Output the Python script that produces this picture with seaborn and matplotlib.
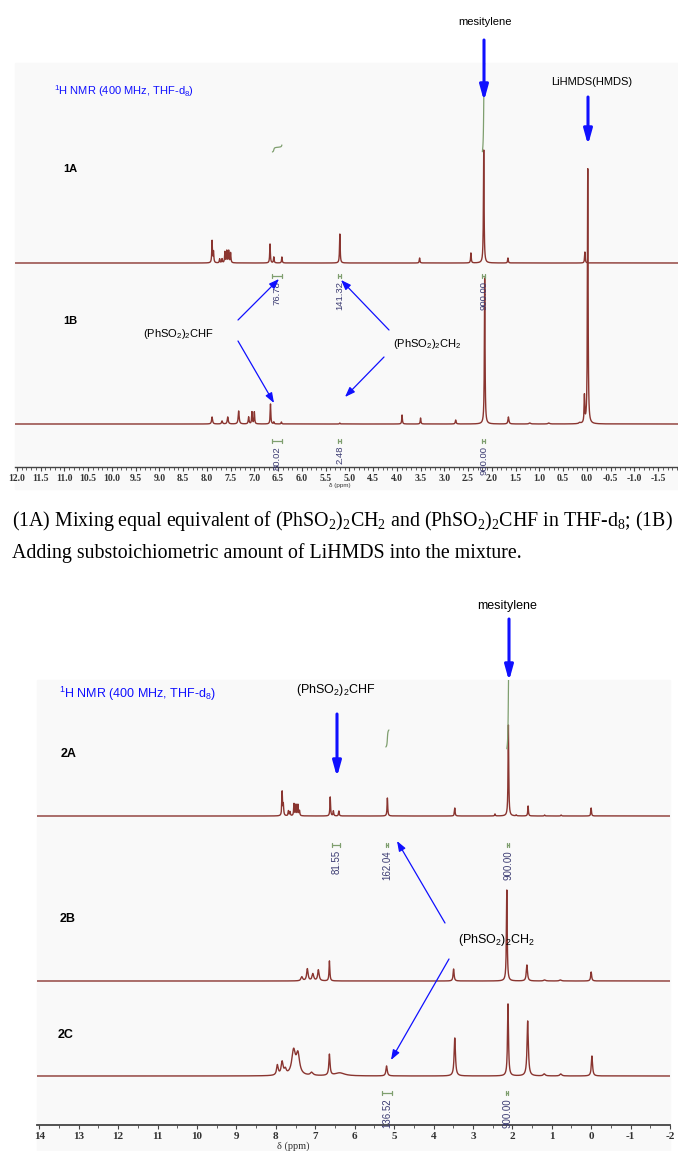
import numpy as np
import pandas as pd
import matplotlib
matplotlib.use("Agg")
import matplotlib.pyplot as plt
import seaborn as sns
from matplotlib.patches import Rectangle, FancyArrowPatch
from matplotlib.ticker import MultipleLocator, FixedLocator, FixedFormatter

sns.set_theme(style="white")
plt.rcParams["font.family"] = ["Liberation Sans", "DejaVu Sans"]

# ---------------- data (ppm, peak height, half width in ppm) ----------------
s1A_ppm = [7.89, 7.86, 7.73, 7.68, 7.62, 7.58, 7.54, 7.50, 6.67, 6.59, 6.42, 5.20, 3.52, 2.44, 2.17, 1.66, 0.04]
s1A_h   = [22, 11, 4, 4, 11, 12, 12, 10, 19, 6, 6, 29, 5, 10, 113, 5, 11]
s1A_w   = [0.008] * 17

s1B_ppm = [7.89, 7.68, 7.56, 7.33, 7.12, 7.05, 7.00, 6.66, 6.59, 6.43, 5.20, 3.89, 3.50, 2.76, 2.15, 1.65, 1.20, 0.80, 0.15, 0.05, -0.02]
s1B_h   = [7, 3, 7, 13, 7, 12, 12, 20, 2, 2, 1, 9, 6, 4, 146, 7, 1, 1, 1, 27, 255]
s1B_w   = [0.012, 0.012, 0.012, 0.012, 0.010, 0.008, 0.008, 0.008, 0.008, 0.008, 0.008, 0.008, 0.008, 0.01, 0.008, 0.012, 0.02, 0.02, 0.02, 0.008, 0.008]

s2A_ppm = [7.84, 7.81, 7.68, 7.64, 7.54, 7.49, 7.44, 7.40, 6.62, 6.54, 6.40, 5.17, 3.46, 2.44, 2.10, 1.90, 1.60, 1.18, 0.76, 0.00]
s2A_h   = [24, 11, 5, 4, 12, 11, 11, 5, 19, 5, 5, 18, 8, 2, 91, 1, 10, 1, 1, 8]
s2A_w   = [0.010] * 20

s2B_ppm = [7.34, 7.20, 7.06, 6.92, 6.64, 3.49, 2.14, 1.63, 1.18, 0.78, 0.00]
s2B_h   = [4, 12, 7, 11, 20, 12, 91, 16, 1, 1, 9]
s2B_w   = [0.025, 0.022, 0.025, 0.022, 0.012, 0.015, 0.012, 0.018, 0.03, 0.03, 0.015]

s2C_ppm = [7.96, 7.84, 7.76, 7.55, 7.44, 7.09, 6.64, 6.38, 5.19, 3.46, 2.11, 1.61, 1.19, 0.77, -0.02]
s2C_h   = [10, 13, 5, 24, 20, 3, 21, 3, 10, 38, 72, 55, 2, 2, 20]
s2C_w   = [0.025, 0.03, 0.03, 0.055, 0.05, 0.04, 0.018, 0.15, 0.02, 0.02, 0.015, 0.02, 0.03, 0.03, 0.018]

# integrals: (from ppm, to ppm, label)
int1A_from = [6.62, 5.23, 2.20]
int1A_to   = [6.42, 5.17, 2.14]
int1A_lab  = ["76.78", "141.32", "900.00"]
int1B_from = [6.62, 5.23, 2.20]
int1B_to   = [6.42, 5.17, 2.14]
int1B_lab  = ["80.02", "2.48", "900.00"]
int2A_from = [6.57, 5.21, 2.14]
int2A_to   = [6.37, 5.15, 2.08]
int2A_lab  = ["81.55", "162.04", "900.00"]
int2C_from = [5.30, 2.16]
int2C_to   = [5.06, 2.10]
int2C_lab  = ["136.52", "900.00"]

top_ticks = np.arange(-1.5, 12.01, 0.5)
top_ticklabels = ["%.1f" % t for t in top_ticks]
bot_ticks = np.arange(-2, 14.1, 1)
bot_ticklabels = ["%d" % t for t in bot_ticks]

# ---------------- figure ----------------
W, H = 678, 1151
fig = plt.figure(figsize=(6.78, 11.51), dpi=100)
fig.patch.set_facecolor("white")

def fx(x):
    return x / W

def fy(y):
    return 1 - y / H

SPEC = "#8a3530"
GREEN = "#7f9f6f"
NAVY = "#3b3b72"
BLUE = "#1010ff"
BG = "#f9f9f9"

fig.patches.append(Rectangle((fx(15), fy(489)), fx(678) - fx(15), fy(63) - fy(489),
                             transform=fig.transFigure, color=BG, zorder=-5))
fig.patches.append(Rectangle((fx(37), fy(1151)), fx(670) - fx(37), fy(680) - fy(1151),
                             transform=fig.transFigure, color=BG, zorder=-5))

xg = np.arange(-2.2, 14.2, 0.001)

def spectrum(ppm, h, w):
    y = np.zeros_like(xg)
    for p, hh, ww in zip(ppm, h, w):
        y += hh / (1 + ((xg - p) / ww) ** 2)
    return y

def draw_spec(ax, ppm, h, w, base, xlim):
    y = spectrum(ppm, h, w)
    m = (xg >= min(xlim) - 0.05) & (xg <= max(xlim) + 0.05)
    df = pd.DataFrame({"ppm": xg[m], "I": y[m] + base})
    sns.lineplot(data=df, x="ppm", y="I", ax=ax, color=SPEC, linewidth=1.0,
                 estimator=None, sort=False, legend=False)
    return y

def draw_integrals(ax, spec, frm, to, labs, ybr, fs, curves=None):
    for i, (a, b, lab) in enumerate(zip(frm, to, labs)):
        ax.plot([a, b], [ybr, ybr], color=GREEN, lw=0.9, solid_capstyle="butt")
        ax.plot([a, a], [ybr - 2, ybr + 2], color=GREEN, lw=0.9)
        ax.plot([b, b], [ybr - 2, ybr + 2], color=GREEN, lw=0.9)
        ax.text((a + b) / 2, ybr - 5, lab, rotation=90, ha="center", va="top",
                fontsize=fs, color=NAVY, zorder=5, clip_on=False)
        if curves is not None and curves[i] is not None:
            base, rise, lo, hi = curves[i]
            mm = (xg <= hi) & (xg >= lo)
            xs = xg[mm][::-1]
            cum = np.cumsum(spec[mm][::-1])
            cum = cum / cum[-1]
            dfi = pd.DataFrame({"ppm": xs, "I": base + rise * cum})
            sns.lineplot(data=dfi, x="ppm", y="I", ax=ax, color=GREEN, linewidth=0.9,
                         estimator=None, sort=False, legend=False)

def style_axis(ax, xlim, ylim, ticks, labels, minor, fs, lw):
    ax.set_xlim(*xlim)
    ax.set_ylim(*ylim)
    ax.set_facecolor("none")
    for s in ["top", "left", "right"]:
        ax.spines[s].set_visible(False)
    ax.spines["bottom"].set_color("#444444")
    ax.spines["bottom"].set_linewidth(lw)
    ax.set_yticks([])
    ax.xaxis.set_major_locator(FixedLocator(ticks))
    ax.xaxis.set_major_formatter(FixedFormatter(labels))
    ax.xaxis.set_minor_locator(MultipleLocator(minor))
    ax.tick_params(axis="x", which="major", direction="out", length=3, width=0.8,
                   color="#444444", pad=2.0, labelsize=fs, bottom=True)
    ax.tick_params(axis="x", which="minor", direction="out", length=1.8, width=0.6,
                   color="#444444", bottom=True)
    for t in ax.get_xticklabels():
        t.set_fontfamily("Liberation Serif")
        t.set_fontweight("bold")
        t.set_color("#333333")
    ax.set_xlabel("")
    ax.set_ylabel("")
    ax.grid(False)

# ---------------- panel 1 ----------------
ax1 = fig.add_axes([fx(15), fy(467), fx(678) - fx(15), fy(63) - fy(467)])
xl1 = (12.04, -1.92)
base1A, base1B = 204, 43
y1B = draw_spec(ax1, s1B_ppm, s1B_h, s1B_w, base1B, xl1)
y1A = draw_spec(ax1, s1A_ppm, s1A_h, s1A_w, base1A, xl1)
draw_integrals(ax1, y1A, int1A_from, int1A_to, int1A_lab, 191, 6.8,
               curves=[(315, 7, 6.42, 6.62), None, (315, 95, 2.14, 2.20)])
draw_integrals(ax1, y1B, int1B_from, int1B_to, int1B_lab, 26, 6.8)
style_axis(ax1, xl1, (0, 404), top_ticks, top_ticklabels, 0.1, 7, 1.0)

# ---------------- panel 2 ----------------
ax2 = fig.add_axes([fx(37), fy(1125), fx(670) - fx(37), fy(680) - fy(1125)])
xl2 = (14.06, -2.0)
base2A, base2B, base2C = 309, 144, 49
y2A = draw_spec(ax2, s2A_ppm, s2A_h, s2A_w, base2A, xl2)
y2B = draw_spec(ax2, s2B_ppm, s2B_h, s2B_w, base2B, xl2)
y2C = draw_spec(ax2, s2C_ppm, s2C_h, s2C_w, base2C, xl2)
draw_integrals(ax2, y2A, int2A_from, int2A_to, int2A_lab, 280, 7,
               curves=[None, (378, 17, 5.13, 5.21), (376, 110, 2.06, 2.14)])
draw_integrals(ax2, y2C, int2C_from, int2C_to, int2C_lab, 32, 7)
style_axis(ax2, xl2, (0, 445), bot_ticks, bot_ticklabels, 0.5, 8, 1.3)

# ---------------- texts ----------------
sub2 = r"$\mathregular{_2}$"
CHF = "(PhSO" + sub2 + ")" + sub2 + "CHF"
CH2 = "(PhSO" + sub2 + ")" + sub2 + "CH" + sub2
NMR = r"$\mathregular{^1}$H NMR (400 MHz, THF-d$\mathregular{_8}$)"

fig.text(fx(485), fy(22), "mesitylene", ha="center", va="center", fontsize=8, color="black")
fig.text(fx(592), fy(82), "LiHMDS(HMDS)", ha="center", va="center", fontsize=8, color="black")
fig.text(fx(54), fy(91), NMR, ha="left", va="center", fontsize=8, color=BLUE)
fig.text(fx(63), fy(169), "1A", ha="left", va="center", fontsize=8, fontweight="bold", color="black")
fig.text(fx(63), fy(321), "1B", ha="left", va="center", fontsize=8, fontweight="bold", color="black")
fig.text(fx(143), fy(334), CHF, ha="left", va="center", fontsize=8, color="black")
fig.text(fx(393), fy(344), CH2, ha="left", va="center", fontsize=8, color="black")
fig.text(fx(340), fy(486), "δ (ppm)", ha="center", va="center", fontsize=4.5, color="#333333")

cap1 = ("(1A) Mixing equal equivalent of (PhSO" + sub2 + ")" + sub2 + "CH" + sub2 +
        " and (PhSO" + sub2 + ")" + sub2 + "CHF in THF-d" + r"$\mathregular{_8}$" + "; (1B)")
cap2 = "Adding substoichiometric amount of LiHMDS into the mixture."
fig.text(fx(12), fy(521), cap1, ha="left", va="center", fontsize=14.3,
         family="Liberation Serif", color="black")
fig.text(fx(12), fy(553), cap2, ha="left", va="center", fontsize=14.3,
         family="Liberation Serif", color="black")

fig.text(fx(507), fy(606), "mesitylene", ha="center", va="center", fontsize=9, color="black")
fig.text(fx(59), fy(694), NMR, ha="left", va="center", fontsize=9, color=BLUE)
fig.text(fx(336), fy(690), CHF, ha="center", va="center", fontsize=9, color="black")
fig.text(fx(61), fy(754), "2A", ha="left", va="center", fontsize=9, fontweight="bold", color="black")
fig.text(fx(60), fy(919), "2B", ha="left", va="center", fontsize=9, fontweight="bold", color="black")
fig.text(fx(58), fy(1035), "2C", ha="left", va="center", fontsize=9, fontweight="bold", color="black")
fig.text(fx(458), fy(940), CH2, ha="left", va="center", fontsize=9, color="black")
fig.text(fx(293), fy(1146), "δ (ppm)", ha="center", va="center", fontsize=7.5,
         family="Liberation Serif", color="#333333")

# ---------------- arrows ----------------
def arrow(p0, p1, thick):
    if thick:
        style = "-|>,head_length=0.9,head_width=0.25"
        lw, ms = 2.2, 10
    else:
        style = "-|>,head_length=0.6,head_width=0.22"
        lw, ms = 0.9, 10
    a = FancyArrowPatch((fx(p0[0]), fy(p0[1])), (fx(p1[0]), fy(p1[1])),
                        transform=fig.transFigure, arrowstyle=style, mutation_scale=ms,
                        color=BLUE, lw=lw, shrinkA=0, shrinkB=0, zorder=10)
    fig.patches.append(a)

arrow((484, 40), (484, 101), True)
arrow((588, 97), (588, 145), True)
arrow((238, 320), (279, 279), False)
arrow((238, 341), (274, 403), False)
arrow((389, 330), (341, 280), False)
arrow((384, 357), (345, 397), False)
arrow((509, 619), (509, 681), True)
arrow((337, 714), (337, 777), True)
arrow((445, 923), (397, 841), False)
arrow((449, 959), (391, 1060), False)

fig.savefig("out.png", dpi=100)
